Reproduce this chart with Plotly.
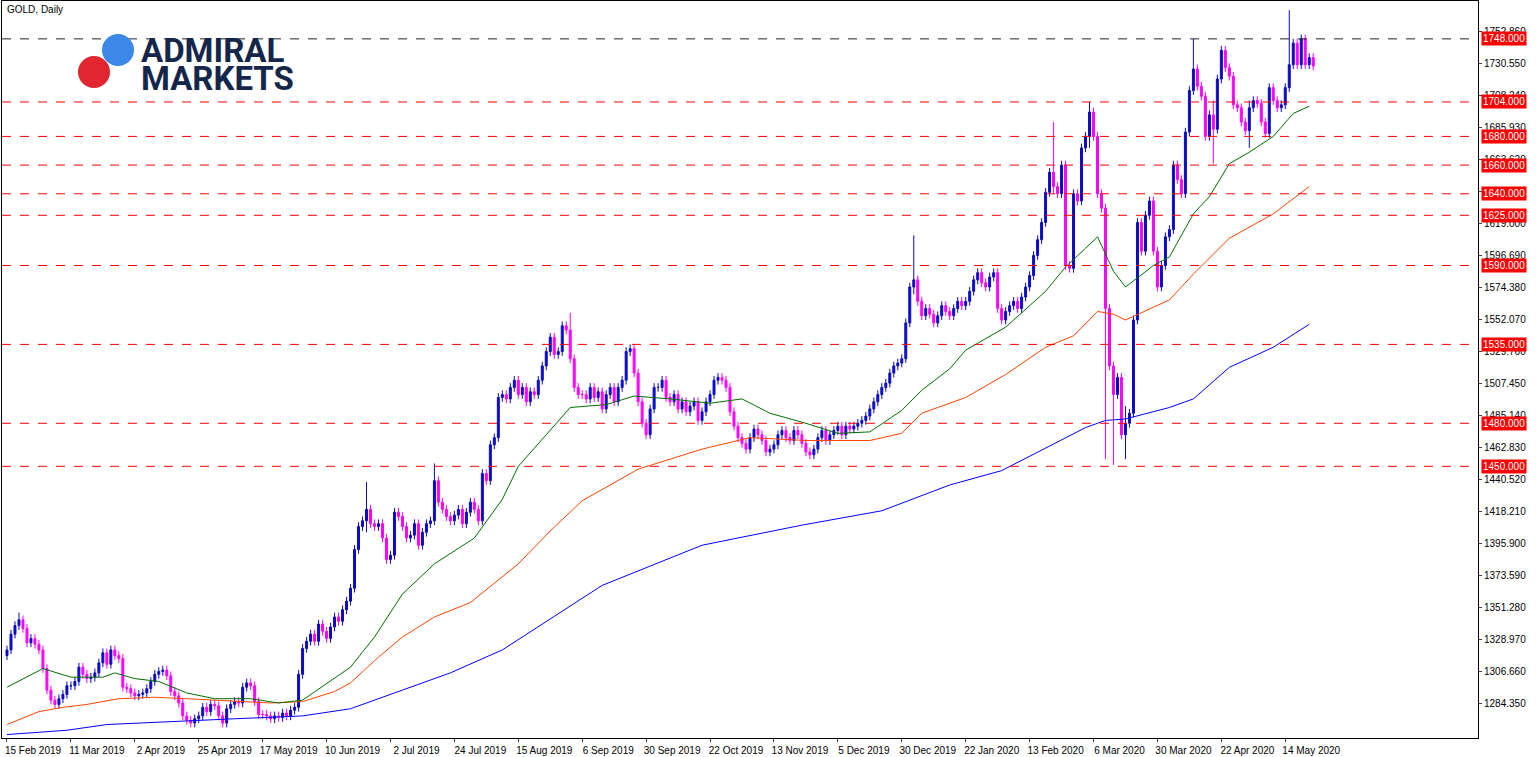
import plotly.graph_objects as go

# daily closes (one bar per trading day)
closes = [
    1322, 1333, 1339, 1343, 1337, 1327, 1330, 1326, 1322, 1309, 1294, 1287, 1284, 1288, 1291, 1297,
    1297, 1300, 1310, 1305, 1302, 1303, 1306, 1313, 1320, 1312, 1322, 1318, 1316, 1296, 1295, 1292,
    1290, 1291, 1292, 1295, 1300, 1305, 1307, 1308, 1304, 1293, 1290, 1285, 1276, 1273, 1271, 1274,
    1276, 1282, 1279, 1284, 1283, 1276, 1271, 1281, 1284, 1286, 1285, 1296, 1299, 1297, 1286, 1277,
    1277, 1276, 1274, 1276, 1275, 1278, 1276, 1280, 1282, 1305, 1323, 1328, 1333, 1328, 1340, 1335,
    1330, 1338, 1345, 1342, 1350, 1356, 1365, 1392, 1408, 1412, 1420, 1410, 1408, 1410, 1400, 1385,
    1388, 1418, 1415, 1408, 1400, 1402, 1410, 1395, 1404, 1410, 1412, 1440, 1425, 1420, 1415, 1412,
    1416, 1420, 1410, 1418, 1425, 1420, 1412, 1445, 1440, 1465, 1470, 1498, 1500, 1497, 1505, 1510,
    1500, 1505, 1495, 1502, 1500, 1510, 1520, 1530, 1540, 1528, 1530, 1548, 1545, 1525, 1505, 1500,
    1500, 1497, 1505, 1498, 1502, 1490, 1500, 1505, 1495, 1505, 1510, 1530, 1532, 1515, 1495, 1480,
    1472, 1490, 1505, 1505, 1510, 1498, 1495, 1500, 1490, 1495, 1488, 1492, 1495, 1482, 1488, 1495,
    1500, 1510, 1512, 1510, 1505, 1488, 1478, 1470, 1466, 1462, 1470, 1476, 1472, 1468, 1460, 1462,
    1465, 1472, 1475, 1470, 1468, 1475, 1472, 1466, 1460, 1458, 1462, 1470, 1475, 1468, 1472, 1475,
    1478, 1472, 1478, 1476, 1478, 1480, 1482, 1485, 1490, 1495, 1500, 1505, 1508, 1515, 1520, 1522,
    1525, 1550, 1575, 1580, 1565, 1555, 1560, 1556, 1550, 1555, 1562, 1558, 1555, 1560, 1565, 1562,
    1565, 1572, 1580, 1585, 1578, 1575, 1582, 1585, 1560, 1552, 1558, 1562, 1565, 1560, 1568, 1575,
    1583, 1597, 1608, 1620, 1641, 1655, 1645, 1640, 1660, 1590, 1588, 1640, 1635, 1672, 1680, 1697,
    1680, 1640, 1630, 1560, 1520, 1500, 1512, 1472, 1480, 1487, 1552, 1620, 1600, 1625, 1635, 1600,
    1575, 1590, 1610, 1615, 1660, 1650, 1640, 1683, 1712, 1727, 1715, 1708, 1680, 1695, 1685, 1720,
    1740, 1728, 1722, 1702, 1700, 1690, 1684, 1700, 1705, 1703, 1690, 1682, 1714, 1705, 1700, 1702,
    1714, 1730, 1745, 1730, 1748, 1730, 1735, 1729,
]
first_open = 1318
# longer wicks seen on the chart: bar index -> (high, low)
wick_spikes = {3: (1348, 1336), 90: (1439, 1404), 107: (1452, 1420), 141: (1557, 1540),
               227: (1611, 1570), 262: (1690, 1640), 271: (1704, 1672), 275: (1575, 1455),
               277: (1515, 1451), 280: (1492, 1455), 297: (1748, 1710), 302: (1705, 1661),
               321: (1768, 1722), 311: (1705, 1672)}

# moving averages (green 50, orange 100, blue 200) read at sample bars
ma50_idx = [0, 9, 16, 24, 27, 32, 38, 45, 52, 61, 68, 74, 86, 92, 99, 107, 117, 124, 128, 141, 150, 157, 166,
            176, 184, 191, 200, 208, 216, 224, 229, 236, 240, 250, 260, 265, 270, 273, 277, 280, 287, 291, 297,
            301, 306, 311, 317, 322, 326]
ma50 = [1296, 1309, 1303, 1303, 1306, 1302, 1300, 1292, 1288, 1288, 1285, 1287, 1310, 1331, 1361, 1382, 1400,
        1427, 1450, 1491, 1493, 1499, 1497, 1494, 1497, 1487, 1480, 1473, 1474, 1489, 1503, 1518, 1531, 1547,
        1572, 1589, 1602, 1610, 1586, 1575, 1590, 1596, 1626, 1638, 1661, 1669, 1680, 1696, 1701]
ma100_idx = [0, 8, 14, 20, 28, 37, 45, 57, 66, 74, 82, 86, 93, 99, 107, 116, 124, 128, 136, 144, 158, 174,
             186, 200, 216, 224, 229, 240, 250, 260, 267, 273, 277, 280, 291, 297, 306, 317, 326]
ma100 = [1270, 1279, 1282, 1284, 1288, 1289, 1288, 1286, 1285, 1286, 1293, 1299, 1317, 1331, 1345, 1355, 1373,
         1382, 1405, 1426, 1448, 1462, 1470, 1468, 1468, 1473, 1487, 1498, 1514, 1533, 1541, 1558, 1556, 1552,
         1566, 1584, 1609, 1626, 1645]
ma200_idx = [0, 15, 25, 40, 57, 74, 86, 99, 111, 124, 149, 174, 199, 219, 236, 249, 260, 270, 275, 280, 291,
             297, 306, 317, 326]
ma200 = [1263, 1266, 1270, 1272, 1274, 1276, 1281, 1294, 1306, 1322, 1367, 1395, 1409, 1419, 1437, 1447, 1463,
         1477, 1482, 1483, 1491, 1497, 1519, 1533, 1549]

levels = [1748, 1704, 1680, 1660, 1640, 1625, 1590, 1535, 1480, 1450]
y_ticks = [1752.86, 1730.55, 1708.24, 1685.93, 1663.62, 1641.31, 1619.00, 1596.69, 1574.38, 1552.07, 1529.76,
           1507.45, 1485.14, 1462.83, 1440.52, 1418.21, 1395.90, 1373.59, 1351.28, 1328.97, 1306.66, 1284.35]
date_labels = ["15 Feb 2019", "11 Mar 2019", "2 Apr 2019", "25 Apr 2019", "17 May 2019", "10 Jun 2019",
               "2 Jul 2019", "24 Jul 2019", "15 Aug 2019", "6 Sep 2019", "30 Sep 2019", "22 Oct 2019",
               "13 Nov 2019", "5 Dec 2019", "30 Dec 2019", "22 Jan 2020", "13 Feb 2020", "6 Mar 2020",
               "30 Mar 2020", "22 Apr 2020", "14 May 2020"]

idx = list(range(len(closes)))
opens = [first_open] + closes[:-1]
highs, lows = [], []
for i, (o, c) in enumerate(zip(opens, closes)):
    h, l = max(o, c) + 3, min(o, c) - 3
    if i in wick_spikes:
        h, l = max(h, wick_spikes[i][0]), min(l, wick_spikes[i][1])
    highs.append(h)
    lows.append(l)

BLUE, PINK = "#0a0ac8", "#ff00ff"
FONT = "Liberation Sans"
fig = go.Figure()
fig.add_trace(go.Candlestick(
    x=idx, open=opens, high=highs, low=lows, close=closes, whiskerwidth=0,
    increasing=dict(line=dict(color=BLUE, width=1), fillcolor=BLUE),
    decreasing=dict(line=dict(color=PINK, width=1), fillcolor=PINK),
    showlegend=False, hoverinfo="skip"))
for xs, ys, col in [(ma200_idx, ma200, "#0000ff"), (ma100_idx, ma100, "#ff4500"), (ma50_idx, ma50, "#007000")]:
    fig.add_trace(go.Scatter(x=xs, y=ys, mode="lines", line=dict(color=col, width=1), showlegend=False))

for lv in levels:
    fig.add_hline(y=lv, line=dict(color="#222222" if lv == 1748 else "#ff0000", width=1, dash="dash"))
    fig.add_annotation(x=1, xref="paper", y=lv, xanchor="left", text=f"{lv:.3f}", showarrow=False,
                       bgcolor="#ff0000", font=dict(color="white", size=10, family=FONT),
                       borderpad=1, xshift=3)

fig.add_annotation(x=0.002, y=1, xref="paper", yref="paper", xanchor="left", yanchor="top", yshift=-1,
                   text="GOLD, Daily", showarrow=False, font=dict(size=10, color="black", family=FONT))
# logo, sized in pixels from the plot's top-left corner
for cx, cy, col in [(116, -49, "#3c88e8"), (92, -71, "#e0262f")]:
    fig.add_shape(type="circle", xref="paper", yref="paper", xsizemode="pixel", ysizemode="pixel",
                  xanchor=0, yanchor=1, x0=cx - 16, x1=cx + 16, y0=cy - 16, y1=cy + 16,
                  fillcolor=col, line_width=0)
for txt, ty in [("ADMIRAL", -28), ("MARKETS", -56)]:
    fig.add_annotation(x=0, y=1, xref="paper", yref="paper", xanchor="left", yanchor="top",
                       xshift=137, yshift=ty, text=f"<b>{txt}</b>", showarrow=False,
                       font=dict(size=33, color="#14264a", family="Roboto"))

fig.update_layout(
    width=1537, height=757, margin=dict(l=2, r=59, t=1, b=19),
    paper_bgcolor="white", plot_bgcolor="white",
    font=dict(family=FONT, size=10, color="black"),
    xaxis=dict(range=[-1.25, 368.25], rangeslider=dict(visible=False), showgrid=False, zeroline=False,
               tickvals=[16 * k for k in range(len(date_labels))], ticktext=date_labels, tickangle=0,
               ticklabelshift=26, ticklabelstandoff=0,
               ticks="outside", ticklen=3, showline=True, linecolor="black", mirror=True),
    yaxis=dict(range=[1260.6, 1774.4], side="right", showgrid=False, zeroline=False,
               tickvals=y_ticks, ticktext=[f"{v:.3f}" for v in y_ticks],
               ticks="outside", ticklen=3, showline=True, linecolor="black", mirror=True),
)
fig.write_html("out.html", config={"displayModeBar": False},
               post_script="document.body.style.margin='0';")
